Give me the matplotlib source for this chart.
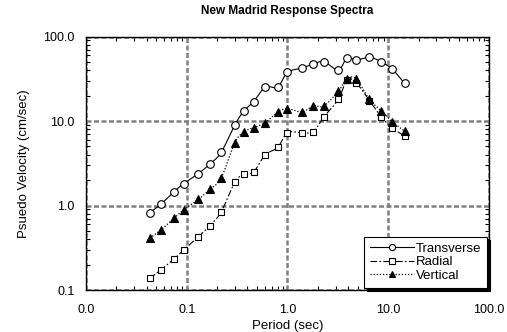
import matplotlib
matplotlib.use("Agg")

import matplotlib.pyplot as plt
import numpy as np
from matplotlib.lines import Line2D
from matplotlib.ticker import FixedLocator, FuncFormatter, LogLocator, NullFormatter

plt.rcParams["font.family"] = ["Liberation Sans", "DejaVu Sans"]

# Periods (sec), shared by all three components
period = [0.043, 0.055, 0.075, 0.093, 0.13, 0.17, 0.22, 0.30, 0.37, 0.46,
          0.60, 0.80, 1.0, 1.4, 1.8, 2.3, 3.2, 3.9, 4.8, 6.5, 8.5, 11.0, 14.5]

# Pseudo velocity (cm/sec)
transverse = [0.82, 1.03, 1.46, 1.81, 2.38, 3.10, 4.27, 9.0, 13.2, 16.9,
              25.2, 25.2, 37.7, 42.4, 47.3, 50.3, 40.1, 56.1, 52.7, 56.7,
              50.3, 40.9, 27.9]
radial = [0.137, 0.172, 0.234, 0.297, 0.428, 0.577, 0.845, 1.88, 2.36, 2.49,
          3.96, 4.88, 7.27, 7.27, 7.47, 11.2, 18.1, 30.6, 28.4, 17.4,
          11.2, 8.2, 6.7]
vertical = [0.41, 0.51, 0.71, 0.885, 1.18, 1.55, 2.13, 5.54, 7.47, 8.34,
            9.55, 12.7, 14.0, 12.8, 15.1, 15.1, 22.6, 31.4, 31.4, 18.1,
            13.2, 9.8, 7.6]

x_ticks = [0.01, 0.1, 1.0, 10.0, 100.0]
y_ticks = [0.1, 1.0, 10.0, 100.0]


def smooth(x, y, n=12):
    """Catmull-Rom curve through the points, computed in log-log space."""
    lx, ly = np.log10(x), np.log10(y)
    p = np.column_stack([lx, ly])
    p = np.vstack([2 * p[0] - p[1], p, 2 * p[-1] - p[-2]])
    out = []
    t = np.linspace(0, 1, n, endpoint=False)[:, None]
    for i in range(1, len(p) - 2):
        p0, p1, p2, p3 = p[i - 1], p[i], p[i + 1], p[i + 2]
        seg = 0.5 * ((2 * p1) + (-p0 + p2) * t
                     + (2 * p0 - 5 * p1 + 4 * p2 - p3) * t ** 2
                     + (-p0 + 3 * p1 - 3 * p2 + p3) * t ** 3)
        out.append(seg)
    out.append(p[-2][None, :])
    out = np.vstack(out)
    return 10 ** out[:, 0], 10 ** out[:, 1]


series = [
    ("Transverse", transverse, dict(ls="-", marker="o", ms=5.5, mfc="white", lw=0.8)),
    ("Radial", radial, dict(ls=(0, (6, 2, 1.5, 2)), marker="s", ms=4.8, mfc="white", lw=0.8)),
    ("Vertical", vertical, dict(ls=(0, (1, 1.5)), marker="^", ms=6, mfc="black", lw=0.9)),
]

fig = plt.figure(figsize=(5.07, 3.32), dpi=100)
ax = fig.add_axes([0.1696, 0.1265, 0.7949, 0.7635])
ax.set_xscale("log")
ax.set_yscale("log")
ax.set_xlim(0.01, 100)
ax.set_ylim(0.1, 100)

handles = []
for name, vals, st in series:
    sx, sy = smooth(period, vals)
    ax.plot(sx, sy, color="black", ls=st["ls"], lw=st["lw"], zorder=3)
    ax.plot(period, vals, ls="none", marker=st["marker"], ms=st["ms"],
            mfc=st["mfc"], mec="black", mew=0.8, zorder=4)
    handles.append(Line2D([], [], color="black", ls=st["ls"], lw=st["lw"],
                          marker=st["marker"], ms=st["ms"] * 0.8,
                          mfc=st["mfc"], mec="black", mew=0.8))

# axis ticks and grid
ax.xaxis.set_major_locator(FixedLocator(x_ticks))
ax.yaxis.set_major_locator(FixedLocator(y_ticks))
fmt = FuncFormatter(lambda v, pos: f"{v:.1f}")
ax.xaxis.set_major_formatter(fmt)
ax.yaxis.set_major_formatter(fmt)
ax.xaxis.set_minor_locator(LogLocator(base=10, subs=np.arange(2, 10)))
ax.yaxis.set_minor_locator(LogLocator(base=10, subs=np.arange(2, 10)))
ax.xaxis.set_minor_formatter(NullFormatter())
ax.yaxis.set_minor_formatter(NullFormatter())
ax.tick_params(which="major", direction="in", length=0, labelsize=9)
ax.tick_params(axis="x", which="major", pad=10)
ax.tick_params(axis="y", which="major", pad=8)
ax.tick_params(which="minor", direction="in", length=3, width=0.8,
               top=True, right=True)
ax.grid(which="major", color="#808080", ls=(0, (2, 1)), lw=1.8, zorder=1)

for sp in ax.spines.values():
    sp.set_linewidth(1.0)
    sp.set_color("black")

ax.set_title("New Madrid Response Spectra", fontsize=8.5, fontweight="bold", pad=16)
ax.set_xlabel("Period (sec)", fontsize=9.5, labelpad=3)
ax.set_ylabel("Psuedo Velocity (cm/sec)", fontsize=9.5, labelpad=10)

leg = ax.legend(handles, [s[0] for s in series], loc="lower right",
                bbox_to_anchor=(0.996, 0.008), borderaxespad=0,
                fontsize=9.5, frameon=True, fancybox=False,
                shadow={"color": "black", "alpha": 1.0, "ox": 2, "oy": -2},
                edgecolor="black", handlelength=3.3, handletextpad=0.15,
                labelspacing=0.1, borderpad=0.45)
leg.get_frame().set_linewidth(0.8)
leg.set_zorder(5)

fig.savefig("out.png", dpi=100)
